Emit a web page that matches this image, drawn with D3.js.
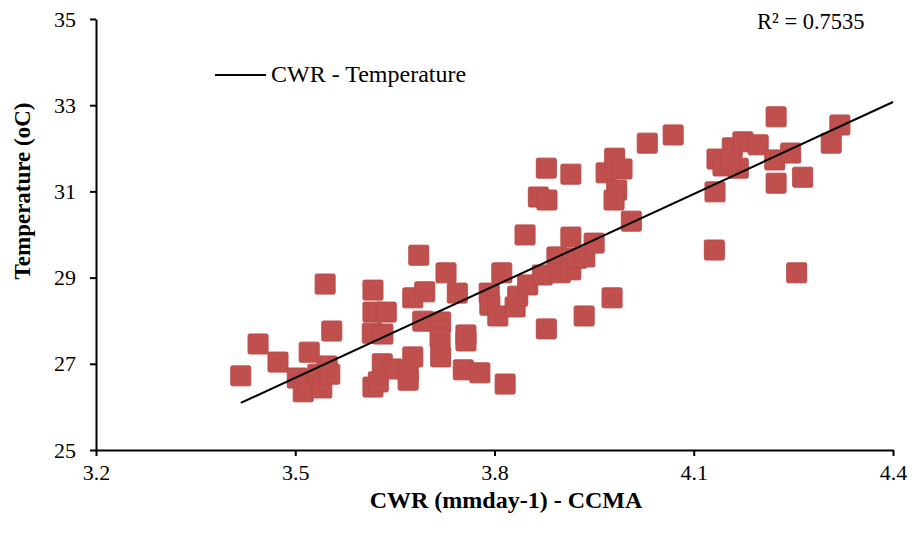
<!DOCTYPE html>
<html>
<head>
<meta charset="utf-8">
<script src="https://cdn.jsdelivr.net/npm/d3@7"></script>
<style>
  body { margin: 0; background: #fff; }
</style>
</head>
<body>
<div id="chart"></div>
<script>
// data
var cwr = [3.418, 3.444, 3.474, 3.503, 3.512, 3.518, 3.521, 3.534, 3.545, 3.555,
  3.548, 3.540, 3.552, 3.617, 3.617, 3.637, 3.616, 3.632, 3.631, 3.646,
  3.617, 3.625, 3.670, 3.670, 3.677, 3.686, 3.677, 3.695, 3.727, 3.692,
  3.719, 3.718, 3.719, 3.744, 3.757, 3.757, 3.753, 3.778, 3.816, 3.792,
  3.793, 3.805, 3.811, 3.831, 3.835, 3.850, 3.872, 3.878, 3.846, 3.894,
  3.899, 3.915, 3.915, 3.924, 3.936, 3.950, 3.935, 3.977, 4.006, 3.878,
  3.915, 3.866, 3.879, 3.968, 3.981, 3.992, 3.984, 3.980, 4.030, 4.069,
  4.131, 4.132, 4.135, 4.144, 4.158, 4.167, 4.174, 4.197, 4.222, 4.224,
  4.224, 4.246, 4.264, 4.255, 4.307, 4.320, 4.155];
var temperature = [26.72, 27.46, 27.04, 26.67, 26.35, 26.55, 27.27, 26.76, 28.85, 27.76,
  26.95, 26.44, 26.76, 28.71, 28.20, 28.20, 27.71, 27.69, 27.00, 26.88,
  26.46, 26.58, 26.81, 26.62, 27.16, 29.52, 28.53, 28.67, 29.11, 27.99,
  27.97, 27.60, 27.16, 28.64, 27.67, 27.53, 26.86, 26.79, 26.53, 28.64,
  28.36, 28.11, 29.11, 28.32, 28.57, 28.83, 29.06, 27.81, 29.99, 29.48,
  29.11, 29.18, 29.94, 29.45, 29.48, 29.80, 28.11, 28.53, 30.31, 31.54,
  31.40, 30.87, 30.80, 31.43, 31.77, 31.52, 31.03, 30.80, 32.12, 32.31,
  29.64, 30.99, 31.75, 31.59, 32.01, 31.54, 32.15, 32.08, 31.73, 32.73,
  31.19, 31.89, 31.33, 29.11, 32.12, 32.54, 31.73];

var xTicks = [3.2, 3.5, 3.8, 4.1, 4.4];
var yTicks = [25, 27, 29, 31, 33, 35];

// linear trendline
var trendSlope = 7.11;
var trendIntercept = 1.79;
var trendFrom = 3.418, trendTo = 4.4;
var rSquared = "R² = 0.7535";

var serif = "'Liberation Serif', 'Times New Roman', Times, 'DejaVu Serif', serif";

var svgWidth = 912;
var svgHeight = 533;
var margin = { top: 19, right: 19, bottom: 83, left: 96 };
var width = svgWidth - margin.left - margin.right;
var height = svgHeight - margin.top - margin.bottom;

var svg = d3.select("#chart")
  .append("svg")
  .attr("width", svgWidth)
  .attr("height", svgHeight)
  .style("font-family", serif);

var chartGroup = svg.append("g")
  .attr("transform", `translate(${margin.left}, ${margin.top})`);

var xScale = d3.scaleLinear().domain([3.2, 4.4]).range([0, width]);
var yScale = d3.scaleLinear().domain([25, 35]).range([height, 0]);

var data = cwr.map((c, i) => ({ x: c, y: temperature[i] }));

// points (squares)
var size = 20;
chartGroup.selectAll("rect.pt")
  .data(data)
  .enter()
  .append("rect")
  .attr("class", "pt")
  .attr("x", d => xScale(d.x) - size / 2)
  .attr("y", d => yScale(d.y) - size / 2)
  .attr("width", size)
  .attr("height", size)
  .attr("rx", 1.5)
  .attr("fill", "#c0504d")
  .attr("stroke", "#b84a48")
  .attr("stroke-width", 1);

// trendline
chartGroup.append("line")
  .attr("x1", xScale(trendFrom))
  .attr("y1", yScale(trendSlope * trendFrom + trendIntercept))
  .attr("x2", xScale(trendTo))
  .attr("y2", yScale(trendSlope * trendTo + trendIntercept))
  .attr("stroke", "#000")
  .attr("stroke-width", 2);

// axes
var xAxis = d3.axisBottom(xScale).tickValues(xTicks).tickSize(6).tickSizeOuter(0)
  .tickFormat(d3.format(".1f"));
var yAxis = d3.axisLeft(yScale).tickValues(yTicks).tickSize(6).tickSizeOuter(0)
  .tickFormat(d3.format("d"));

var gx = chartGroup.append("g")
  .attr("transform", `translate(0, ${height})`)
  .call(xAxis);
var gy = chartGroup.append("g").call(yAxis);

[gx, gy].forEach(function(g) {
  g.attr("font-family", serif);
  g.select(".domain").attr("stroke", "#000").attr("stroke-width", 2);
  g.selectAll(".tick line").attr("stroke", "#000").attr("stroke-width", 2);
  g.selectAll(".tick text")
    .attr("font-family", serif)
    .attr("font-size", "22px")
    .attr("fill", "#000");
});
gx.selectAll(".tick text").attr("dy", "0.95em");
gy.selectAll(".tick text").attr("x", -20);

// axis titles
svg.append("text")
  .attr("x", 506)
  .attr("y", 508)
  .attr("text-anchor", "middle")
  .attr("font-family", serif)
  .attr("font-size", "24px")
  .attr("font-weight", "bold")
  .text("CWR (mmday-1) - CCMA");

svg.append("text")
  .attr("transform", "translate(30, 191) rotate(-90)")
  .attr("text-anchor", "middle")
  .attr("font-family", serif)
  .attr("font-size", "23px")
  .attr("font-weight", "bold")
  .text("Temperature (oC)");

// legend
svg.append("line")
  .attr("x1", 215).attr("x2", 266)
  .attr("y1", 75).attr("y2", 75)
  .attr("stroke", "#000").attr("stroke-width", 2);
svg.append("text")
  .attr("x", 271)
  .attr("y", 82)
  .attr("font-family", serif)
  .attr("font-size", "24px")
  .text("CWR - Temperature");

// R squared
svg.append("text")
  .attr("x", 757)
  .attr("y", 29)
  .attr("font-family", serif)
  .attr("font-size", "22.5px")
  .text(rSquared);
</script>
</body>
</html>
